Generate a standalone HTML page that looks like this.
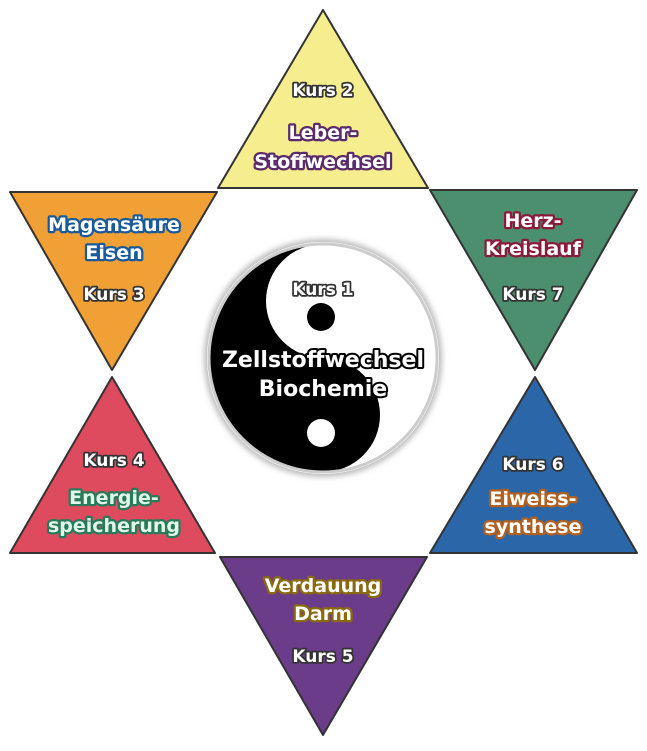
<!DOCTYPE html>
<html><head><style>
html,body{margin:0;padding:0;background:#fff;}
svg text{font-family:"DejaVu Sans","Liberation Sans",sans-serif;font-weight:bold;text-anchor:middle;paint-order:stroke;stroke-linejoin:round;}
.k{fill:#fff;stroke:#333;stroke-width:3.5;font-size:17px;}
.t{font-size:19px;stroke-width:4.5;}
</style></head><body>
<svg width="647" height="746" viewBox="0 0 647 746" xmlns="http://www.w3.org/2000/svg">
<defs>
<filter id="sh"><feGaussianBlur stdDeviation="3"/></filter>
</defs>
<g stroke="#333" stroke-width="2" stroke-linejoin="round">
<polygon points="323,10 428,188 218,188" fill="#f6ee8e"/>
<polygon points="10,192 217,192 112,370" fill="#f0a034"/>
<polygon points="112,377 215,553 10,553" fill="#de4a5e"/>
<polygon points="220,557 427,557 323,735" fill="#6b3c8a"/>
<polygon points="430,190 637,190 535,370" fill="#4c8f6e"/>
<polygon points="535,377 637,553 430,553" fill="#2b67a8"/>
</g>
<circle cx="323" cy="358" r="119" fill="#bbb" filter="url(#sh)"/>
<circle cx="323" cy="358" r="116" fill="#fff"/>
<path d="M323,244 A114,114 0 0 0 323,472 Z" fill="#000"/>
<circle cx="323" cy="415" r="57" fill="#000"/>
<circle cx="323" cy="301" r="57" fill="#fff"/>
<circle cx="323" cy="358" r="114" fill="none" stroke="#ccc" stroke-width="3"/>
<circle cx="321" cy="317" r="14" fill="#000"/>
<circle cx="321" cy="433" r="14" fill="#fff"/>
<text class="k" x="323" y="295">Kurs 1</text>
<text x="323" y="367" style="font-size:22px;fill:#fff;stroke:#000;stroke-width:4">Zellstoffwechsel</text>
<text x="323" y="396" style="font-size:22px;fill:#fff;stroke:#000;stroke-width:4">Biochemie</text>

<text class="k" x="323" y="96">Kurs 2</text>
<text class="t" x="323" y="139" style="fill:#fff;stroke:#5a2a6a">Leber-</text>
<text class="t" x="323" y="168" style="fill:#fff;stroke:#5a2a6a">Stoffwechsel</text>

<text class="t" x="114" y="231" style="fill:#fff;stroke:#1a5a9a">Magensäure</text>
<text class="t" x="114" y="259" style="fill:#fff;stroke:#1a5a9a">Eisen</text>
<text class="k" x="114" y="300">Kurs 3</text>

<text class="k" x="114" y="466">Kurs 4</text>
<text class="t" x="114" y="504" style="fill:#dff8e8;stroke:#2a7a5a">Energie-</text>
<text class="t" x="114" y="532" style="fill:#dff8e8;stroke:#2a7a5a">speicherung</text>

<text class="t" x="323" y="592" style="fill:#fff;stroke:#8a6a10">Verdauung</text>
<text class="t" x="323" y="620" style="fill:#fff;stroke:#8a6a10">Darm</text>
<text class="k" x="323" y="662">Kurs 5</text>

<text class="t" x="533" y="227" style="fill:#fff;stroke:#8a1a3a">Herz-</text>
<text class="t" x="533" y="255" style="fill:#fff;stroke:#8a1a3a">Kreislauf</text>
<text class="k" x="533" y="300">Kurs 7</text>

<text class="k" x="533" y="470">Kurs 6</text>
<text class="t" x="533" y="505" style="fill:#fff;stroke:#b06020">Eiweiss-</text>
<text class="t" x="533" y="533" style="fill:#fff;stroke:#b06020">synthese</text>
</svg>
</body></html>
